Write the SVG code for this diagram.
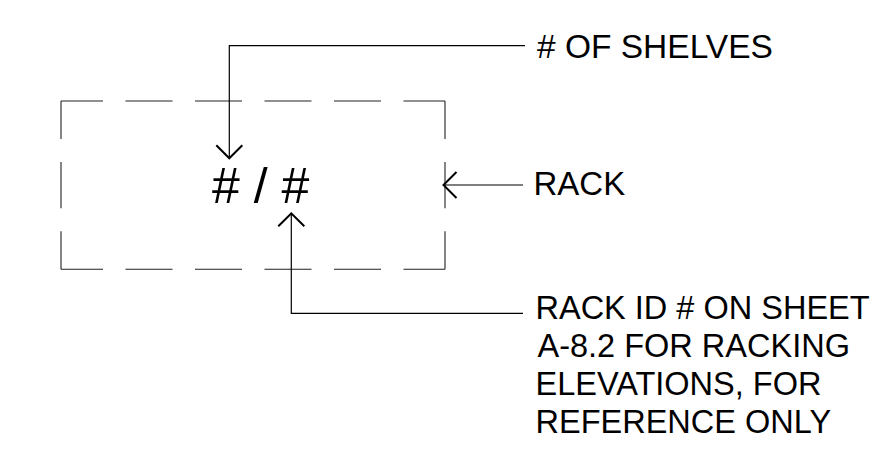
<svg xmlns="http://www.w3.org/2000/svg" width="889" height="462" viewBox="0 0 889 462">
<style>
text{font-family:"Liberation Sans",Arial,sans-serif;fill:#000}
.lbl{font-size:33px}
.ln{fill:none;stroke:#000;stroke-width:1.2}
.dh{fill:none;stroke:#222;stroke-width:1.1}
</style>
<defs>
<marker id="arr" markerUnits="userSpaceOnUse" markerWidth="30" markerHeight="30" viewBox="-15 -15 30 30" refX="0" refY="0" orient="auto">
<path d="M-13,-13 L0,0 L-13,13" fill="none" stroke="#000" stroke-width="2"/>
</marker>
</defs>
<rect width="889" height="462" fill="#fff"/>
<g id="rack">
<path class="dh" d="M61,101 H445" stroke-dasharray="42 22.5 47 22.5 47 22.5 47 22.5 47 22.5 42"/>
<path class="dh" d="M61,269.3 H445" stroke-dasharray="42 22.5 47 22.5 47 22.5 47 22.5 47 22.5 42"/>
<path class="dh" d="M61,101 V269.3" stroke-dasharray="38 23 46.3 23 38"/>
<path class="dh" d="M445,101 V269.3" stroke-dasharray="38 23 46.3 23 38"/>
<text x="212" y="203" font-size="50">#  /  #</text>
</g>
<g id="connectors">
<path class="ln" d="M525,45.7 H229.3 V158.3" marker-end="url(#arr)"/>
<path class="ln" d="M523,185 H443.5" marker-end="url(#arr)"/>
<path class="ln" d="M523,313.3 H291.3 V213.3" marker-end="url(#arr)"/>
</g>
<g id="label-shelves"><text x="537" y="58.3" font-size="33.5"># OF SHELVES</text></g>
<g id="label-rack"><text class="lbl" x="533.5" y="195">RACK</text></g>
<g id="label-rackid" font-size="32.5">
<text x="535.5" y="319">RACK ID # ON SHEET</text>
<text x="537.5" y="357">A-8.2 FOR RACKING</text>
<text x="535.5" y="395">ELEVATIONS, FOR</text>
<text x="535.5" y="433">REFERENCE ONLY</text>
</g>
</svg>
